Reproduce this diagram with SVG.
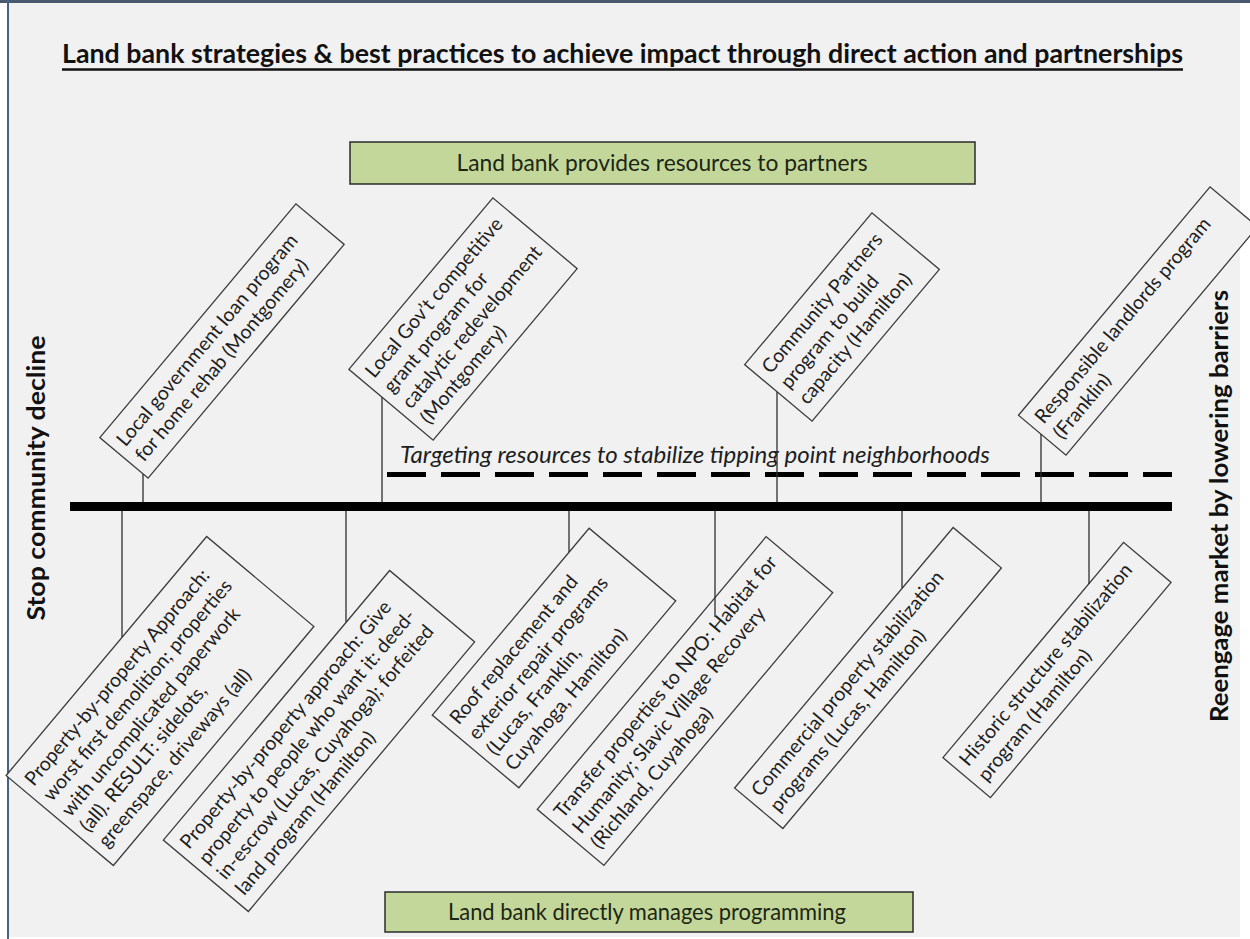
<svg xmlns="http://www.w3.org/2000/svg" width="1250" height="939" viewBox="0 0 1250 939">
<defs>
<style>
.bg{fill:#f1f1f1}
.box{fill:#f1f1f1;stroke:#3c3c3c;stroke-width:1.3}
.gbox{fill:#c4d79b;stroke:#2b2b2b;stroke-width:1.5}
.t{font-family:Lato,"Liberation Sans",sans-serif;font-size:19.5px;fill:#1e1e1e}
.g{font-family:Lato,"Liberation Sans",sans-serif;font-size:23px;fill:#1c2614;text-anchor:middle}
.side{font-family:Lato,"Liberation Sans",sans-serif;font-size:24px;font-weight:700;fill:#111;text-anchor:middle}
.conn{stroke:#2e2e2e;stroke-width:1.3;fill:none}
</style>
</defs>
<rect width="1250" height="939" fill="#ffffff"/>
<rect class="bg" x="8" y="2" width="1232" height="935"/>
<line x1="0" y1="1.5" x2="1250" y2="1.5" stroke="#4a5a6e" stroke-width="3"/>
<line x1="8" y1="0" x2="8" y2="939" stroke="#4a6282" stroke-width="2"/>

<g id="title">
<text x="62" y="63" textLength="1121" lengthAdjust="spacingAndGlyphs" style="font-family:Lato,'Liberation Sans',sans-serif;font-size:27px;font-weight:700;fill:#111">Land bank strategies &amp; best practices to achieve impact through direct action and partnerships</text>
<line x1="62" y1="69.5" x2="1183" y2="69.5" stroke="#111" stroke-width="2.5"/>
</g>

<g id="partners-header">
<rect class="gbox" x="350" y="142" width="625" height="42"/>
<text class="g" x="662" y="171" textLength="411" lengthAdjust="spacingAndGlyphs">Land bank provides resources to partners</text>
</g>

<g id="direct-header">
<rect class="gbox" x="385" y="892" width="528" height="40"/>
<text class="g" x="647" y="920" textLength="398" lengthAdjust="spacingAndGlyphs">Land bank directly manages programming</text>
</g>

<g id="left-label">
<text class="side" transform="translate(45,478) rotate(-90)" textLength="285" lengthAdjust="spacingAndGlyphs">Stop community decline</text>
</g>
<g id="right-label">
<text class="side" transform="translate(1228,506) rotate(-90)" textLength="432" lengthAdjust="spacingAndGlyphs">Reengage market by lowering barriers</text>
</g>

<g id="targeting">
<text x="400" y="463" textLength="590" lengthAdjust="spacingAndGlyphs" style="font-family:Lato,'Liberation Sans',sans-serif;font-size:23px;font-style:italic;fill:#1e1e1e">Targeting resources to stabilize tipping point neighborhoods</text>
<line x1="387" y1="474.5" x2="1172" y2="474.5" stroke="#000" stroke-width="5" stroke-dasharray="39 15"/>
</g>

<g id="axis">
<line x1="70" y1="506.5" x2="1172" y2="506.5" stroke="#000" stroke-width="9"/>
</g>

<g id="b1" transform="translate(222,341) rotate(-50)">
<rect class="box" x="-152.5" y="-31.5" width="305" height="63"/>
<text class="t" x="-143.5" y="-5.5">Local government loan program<tspan x="-143.5" dy="24">for home rehab (Montgomery)</tspan></text>
</g>
<g id="b2" transform="translate(463,319) rotate(-50)">
<rect class="box" x="-112" y="-55" width="224" height="110"/>
<text class="t" x="-103" y="-29.5">Local Gov’t competitive<tspan x="-103" dy="24">grant program for</tspan><tspan x="-103" dy="24">catalytic redevelopment</tspan><tspan x="-103" dy="24">(Montgomery)</tspan></text>
</g>
<g id="b3" transform="translate(842,317) rotate(-50)">
<rect class="box" x="-99" y="-44" width="198" height="88"/>
<text class="t" x="-90" y="-17.5">Community Partners<tspan x="-90" dy="24">program to build</tspan><tspan x="-90" dy="24">capacity (Hamilton)</tspan></text>
</g>
<g id="b4" transform="translate(1138,321) rotate(-50)">
<rect class="box" x="-149" y="-31" width="298" height="62"/>
<text class="t" x="-140" y="-5.5">Responsible landlords program<tspan x="-140" dy="24">(Franklin)</tspan></text>
</g>

<g id="b5" transform="translate(160,701) rotate(-50)">
<rect class="box" x="-156" y="-70" width="312" height="140"/>
<text class="t" x="-147" y="-41.5">Property-by-property Approach:<tspan x="-147" dy="24">worst first demolition; properties</tspan><tspan x="-147" dy="24">with uncomplicated paperwork</tspan><tspan x="-147" dy="24">(all). RESULT: sidelots,</tspan><tspan x="-147" dy="24">greenspace, driveways (all)</tspan></text>
</g>
<g id="b6" transform="translate(319,741) rotate(-50)">
<rect class="box" x="-176" y="-55.5" width="352" height="111"/>
<text class="t" x="-167" y="-29.5">Property-by-property approach: Give<tspan x="-167" dy="24">property to people who want it: deed-</tspan><tspan x="-167" dy="24">in-escrow (Lucas, Cuyahoga); forfeited</tspan><tspan x="-167" dy="24">land program (Hamilton)</tspan></text>
</g>
<g id="b7" transform="translate(554,658) rotate(-50)">
<rect class="box" x="-122" y="-56.5" width="244" height="113"/>
<text class="t" x="-113" y="-29.5">Roof replacement and<tspan x="-113" dy="24">exterior repair programs</tspan><tspan x="-113" dy="24">(Lucas, Franklin,</tspan><tspan x="-113" dy="24">Cuyahoga, Hamilton)</tspan></text>
</g>
<g id="b8" transform="translate(685,701) rotate(-50)">
<rect class="box" x="-178" y="-43.5" width="356" height="87"/>
<text class="t" x="-169" y="-17.5">Transfer properties to NPO: Habitat for<tspan x="-169" dy="24">Humanity; Slavic Village Recovery</tspan><tspan x="-169" dy="24">(Richland, Cuyahoga)</tspan></text>
</g>
<g id="b9" transform="translate(868,678) rotate(-50)">
<rect class="box" x="-170" y="-31.5" width="340" height="63"/>
<text class="t" x="-161" y="-5.5">Commercial property stabilization<tspan x="-161" dy="24">programs (Lucas, Hamilton)</tspan></text>
</g>
<g id="b10" transform="translate(1057,670) rotate(-50)">
<rect class="box" x="-140.5" y="-31" width="281" height="62"/>
<text class="t" x="-131.5" y="-5.5">Historic structure stabilization<tspan x="-131.5" dy="24">program (Hamilton)</tspan></text>
</g>

<g id="connectors">
<line class="conn" x1="143" y1="502" x2="143" y2="474"/>
<line class="conn" x1="382" y1="502" x2="382" y2="397"/>
<line class="conn" x1="777" y1="502" x2="777" y2="392"/>
<line class="conn" x1="1041" y1="502" x2="1041" y2="434"/>
<line class="conn" x1="122" y1="511" x2="122" y2="637"/>
<line class="conn" x1="346" y1="511" x2="346" y2="622"/>
<line class="conn" x1="569" y1="511" x2="569" y2="552"/>
<line class="conn" x1="715" y1="511" x2="715" y2="617"/>
<line class="conn" x1="902" y1="511" x2="902" y2="588"/>
<line class="conn" x1="1089" y1="511" x2="1089" y2="584"/>
</g>
</svg>
